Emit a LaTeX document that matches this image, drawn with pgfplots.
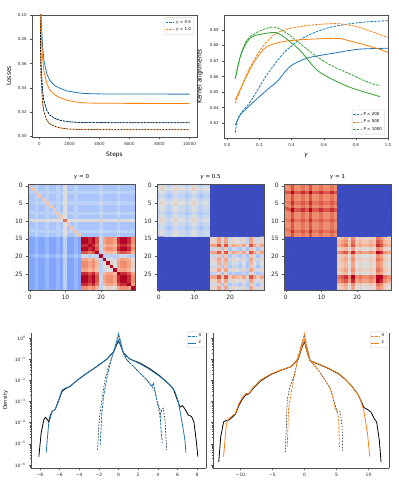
\documentclass[border=0pt]{standalone}
\usepackage{fontspec}
\setmainfont{DejaVu Sans}
\usepackage{pgfplots}
\pgfplotsset{compat=1.18}

\definecolor{tblue}{RGB}{31,119,180}
\definecolor{torange}{RGB}{255,127,14}
\definecolor{tgreen}{RGB}{44,160,44}
\definecolor{spinec}{RGB}{80,80,80}

\pgfplotsset{
  colormap={coolwarm}{rgb255=(59,76,192) rgb255=(98,130,234) rgb255=(141,176,254) rgb255=(184,208,249) rgb255=(221,221,221) rgb255=(245,196,173) rgb255=(244,154,123) rgb255=(222,96,77) rgb255=(180,4,38)},
  mpl/.style={
    scale only axis, anchor=south west,
    axis line style={spinec, line width=0.4bp},
    every tick/.style={spinec, line width=0.35bp},
    tick align=outside, major tick length=1.8bp, minor tick length=1bp,
    xtick pos=left, ytick pos=left,
    scaled ticks=false,
    /pgf/number format/assume math mode=true,
    tick label style={font=\fontsize{4}{4}\selectfont, text=black!85},
    label style={font=\fontsize{6}{6}\selectfont},
    legend cell align=left,
    legend style={font=\fontsize{4}{4}\selectfont, draw=black!20, rounded corners=1bp,
      inner sep=0.6bp, row sep=-1.2bp, fill=white},
    legend image code/.code={\draw[##1, line width=0.8bp] (0bp,0bp) -- (8bp,0bp);},
    every axis plot/.append style={line width=0.8bp},
  },
  hm/.style={mpl, width=107bp, height=106bp, enlargelimits=false,
    xmin=-0.5, xmax=29.5, ymin=-0.5, ymax=29.5, y dir=reverse,
    xtick={0,10,20}, ytick={0,5,10,15,20,25},
    colormap name=coolwarm, point meta min=0, point meta max=9,
    tick label style={font=\fontsize{6}{6}\selectfont},
    title style={font=\fontsize{5.5}{5.5}\selectfont, yshift=-5bp},
    axis on top},
  dens/.style={mpl, height=135bp, ymin=7.2e-7, ymax=1.72,
    axis x line*=bottom, axis y line*=left,
    ytick={1e-6,1e-5,1e-4,1e-3,1e-2,1e-1,1},
    minor ytick={8e-7,9e-7,2e-6,3e-6,4e-6,5e-6,6e-6,7e-6,8e-6,9e-6,2e-5,3e-5,4e-5,5e-5,6e-5,7e-5,8e-5,9e-5,2e-4,3e-4,4e-4,5e-4,6e-4,7e-4,8e-4,9e-4,2e-3,3e-3,4e-3,5e-3,6e-3,7e-3,8e-3,9e-3,2e-2,3e-2,4e-2,5e-2,6e-2,7e-2,8e-2,9e-2,0.2,0.3,0.4,0.5,0.6,0.7,0.8,0.9},
    tick label style={font=\fontsize{4.5}{4.5}\selectfont},
    label style={font=\fontsize{5}{5}\selectfont},
    legend style={at={(0.99,1.01)}, anchor=north east, font=\fontsize{4.5}{4.5}\selectfont},
    extra description/.code={\draw[spinec, line width=0.4bp] (1,0) -- (1,1);}},
  ndash/.style={dash pattern=on 2.6bp off 1.1bp},
  kdash/.style={black, line width=0.5bp, dash pattern=on 1.6bp off 1.4bp},
}

\begin{document}
\begin{tikzpicture}
\useasboundingbox (0,0) rectangle (399bp,485bp);

% ---- losses
\begin{axis}[mpl, at={(32bp,348bp)}, width=165bp, height=122bp,
  xmin=-500, xmax=10500, ymin=-0.0005, ymax=0.1,
  xtick={0,2000,4000,6000,8000,10000}, xticklabels={0,2000,4000,6000,8000,10000},
  ytick={0,0.02,0.04,0.06,0.08,0.1}, yticklabels={0.00,0.02,0.04,0.06,0.08,0.10},
  xlabel={Steps}, ylabel={Losses},
  legend style={at={(0.98,0.98)}, anchor=north east}]
\addplot[tblue, ndash] coordinates {(0,0.16)(100,0.06)(200,0.038)(300,0.029)(500,0.021)(700,0.0175)(1000,0.0150)(1300,0.0135)(1800,0.0122)(2500,0.0116)(3000,0.0114)(5000,0.0113)(10000,0.0113)};
\addlegendentry{\textit{γ} = 0.5}
\addplot[torange, ndash] coordinates {(0,0.16)(100,0.05)(200,0.028)(300,0.020)(500,0.013)(700,0.0102)(1000,0.0085)(1300,0.0072)(1800,0.0062)(2500,0.0058)(3000,0.0056)(5000,0.0055)(10000,0.0055)};
\addlegendentry{\textit{γ} = 1.0}
\addplot[kdash, forget plot] coordinates {(0,0.16)(100,0.06)(200,0.038)(300,0.029)(500,0.021)(700,0.0175)(1000,0.0150)(1300,0.0135)(1800,0.0122)(2500,0.0116)(3000,0.0114)(5000,0.0113)(10000,0.0113)};
\addplot[kdash, forget plot] coordinates {(0,0.16)(100,0.05)(200,0.028)(300,0.020)(500,0.013)(700,0.0102)(1000,0.0085)(1300,0.0072)(1800,0.0062)(2500,0.0058)(3000,0.0056)(5000,0.0055)(10000,0.0055)};
\addplot[tblue, forget plot] coordinates {(0,0.17)(100,0.10)(200,0.075)(300,0.062)(500,0.051)(700,0.046)(1000,0.042)(1300,0.0400)(1800,0.0375)(2500,0.0360)(3000,0.0353)(4000,0.0350)(6000,0.0349)(10000,0.0348)};
\addplot[torange, forget plot] coordinates {(0,0.17)(100,0.09)(200,0.065)(300,0.053)(500,0.043)(700,0.038)(1000,0.0345)(1300,0.0322)(1800,0.0298)(2500,0.0282)(3000,0.0276)(4000,0.0273)(6000,0.0272)(10000,0.0271)};
\end{axis}

% ---- kernel alignments
\begin{axis}[mpl, at={(224bp,347bp)}, width=164bp, height=123bp,
  xmin=-0.02, xmax=1.0, ymin=0.6205, ymax=0.6996,
  xtick={0,0.2,0.4,0.6,0.8,1.0}, xticklabels={0.0,0.2,0.4,0.6,0.8,1.0},
  ytick={0.63,0.64,0.65,0.66,0.67,0.68,0.69}, yticklabels={0.63,0.64,0.65,0.66,0.67,0.68,0.69},
  xlabel={\textit{γ}}, ylabel={Kernel alignments},
  legend style={at={(0.98,0.03)}, anchor=south east},
  every axis plot/.append style={smooth, tension=0.5}]
\addplot[tblue, ndash] coordinates {(0.05,0.624)(0.072,0.6343)(0.144,0.6439)(0.247,0.6611)(0.35,0.675)(0.45,0.6836)(0.557,0.6889)(0.66,0.6921)(0.82,0.6947)(1.0,0.6960)};
\addlegendentry{P = 200}
\addplot[torange, ndash] coordinates {(0.05,0.6429)(0.124,0.6621)(0.206,0.6771)(0.29,0.6868)(0.37,0.6904)(0.495,0.6928)(0.619,0.6939)(0.70,0.6939)(0.82,0.6917)(1.0,0.6851)};
\addlegendentry{P = 500}
\addplot[tgreen, ndash] coordinates {(0.05,0.6590)(0.082,0.6735)(0.124,0.6836)(0.186,0.6885)(0.247,0.6911)(0.30,0.6917)(0.37,0.6879)(0.45,0.6814)(0.557,0.6729)(0.66,0.6664)(0.763,0.6617)(0.866,0.6568)(0.95,0.654)};
\addlegendentry{P = 1000}
\addplot[tblue, forget plot] coordinates {(0.05,0.6289)(0.082,0.6354)(0.144,0.6418)(0.247,0.6514)(0.31,0.6568)(0.39,0.6664)(0.495,0.6718)(0.66,0.675)(0.82,0.6776)(1.0,0.6782)};
\addplot[torange, forget plot] coordinates {(0.05,0.645)(0.082,0.6519)(0.124,0.6611)(0.175,0.6707)(0.247,0.6793)(0.35,0.6825)(0.45,0.6836)(0.55,0.6842)(0.66,0.6846)(0.70,0.6845)(0.82,0.6814)(0.95,0.6775)(1.0,0.6754)};
\addplot[tgreen, forget plot] coordinates {(0.05,0.6585)(0.082,0.6729)(0.124,0.6825)(0.165,0.6861)(0.247,0.6879)(0.30,0.6883)(0.35,0.6857)(0.45,0.6771)(0.557,0.6643)(0.66,0.6579)(0.763,0.6531)(0.866,0.6497)(0.95,0.6471)};
\end{axis}

% ---- heatmap gamma = 0
\begin{axis}[hm, at={(28bp,195bp)}, title={\textit{γ} = 0}]
\addplot[matrix plot*, mesh/cols=30, point meta=explicit]
  table[row sep=\\, x expr={mod(\coordindex,30)}, y expr={floor(\coordindex/30)}, meta=c] {
c\\
5.5\\3\\3.5\\3\\3\\3.5\\3\\3\\3.5\\3\\4.5\\3\\3\\3.5\\3\\3\\3\\3\\3\\3\\3.5\\3\\3\\3\\3\\3.5\\3\\3\\3\\3\\
3\\5.5\\3.5\\3\\3\\3.5\\3\\3\\3.5\\3\\4.5\\3\\3\\3.5\\3\\3\\3\\3\\3\\3\\3.5\\3\\3\\3\\3\\3.5\\3\\3\\3\\3\\
3.5\\3.5\\5.5\\3.5\\3.5\\3.5\\3.5\\3.5\\3.5\\3.5\\4.5\\3.5\\3.5\\3.5\\3.5\\3.5\\3.5\\3.5\\3.5\\3.5\\4\\3.5\\3.5\\3.5\\3.5\\4\\3.5\\3.5\\3.5\\3.5\\
3\\3\\3.5\\5.5\\3\\3.5\\3\\3\\3.5\\3\\4.5\\3\\3\\3.5\\3\\3\\3\\3\\3\\3\\3.5\\3\\3\\3\\3\\3.5\\3\\3\\3\\3\\
3\\3\\3.5\\3\\5.5\\3.5\\3\\3\\3.5\\3\\4.5\\3\\3\\3.5\\3\\3\\3\\3\\3\\3\\3.5\\3\\3\\3\\3\\3.5\\3\\3\\3\\3\\
3.5\\3.5\\3.5\\3.5\\3.5\\5.5\\3.5\\3.5\\3.5\\3.5\\4.5\\3.5\\3.5\\3.5\\3.5\\3.5\\3.5\\3.5\\3.5\\3.5\\4\\3.5\\3.5\\3.5\\3.5\\4\\3.5\\3.5\\3.5\\3.5\\
3\\3\\3.5\\3\\3\\3.5\\5.5\\3\\3.5\\3\\4.5\\3\\3\\3.5\\3\\3\\3\\3\\3\\3\\3.5\\3\\3\\3\\3\\3.5\\3\\3\\3\\3\\
3\\3\\3.5\\3\\3\\3.5\\3\\5.5\\3.5\\3\\4.5\\3\\3\\3.5\\3\\3\\3\\3\\3\\3\\3.5\\3\\3\\3\\3\\3.5\\3\\3\\3\\3\\
3.5\\3.5\\3.5\\3.5\\3.5\\3.5\\3.5\\3.5\\5.5\\3.5\\4.5\\3.5\\3.5\\3.5\\3.5\\3.5\\3.5\\3.5\\3.5\\3.5\\4\\3.5\\3.5\\3.5\\3.5\\4\\3.5\\3.5\\3.5\\3.5\\
3\\3\\3.5\\3\\3\\3.5\\3\\3\\3.5\\5.5\\4.5\\3\\3\\3.5\\3\\3\\3\\3\\3\\3\\3.5\\3\\3\\3\\3\\3.5\\3\\3\\3\\3\\
4.5\\4.5\\4.5\\4.5\\4.5\\4.5\\4.5\\4.5\\4.5\\4.5\\7.5\\4.5\\4.5\\4.5\\4.5\\4.5\\4.5\\4.5\\4.5\\4.5\\5\\4.5\\4.5\\4.5\\4.5\\5\\4.5\\4.5\\4.5\\4.5\\
3\\3\\3.5\\3\\3\\3.5\\3\\3\\3.5\\3\\4.5\\5.5\\3\\3.5\\3\\3\\3\\3\\3\\3\\3.5\\3\\3\\3\\3\\3.5\\3\\3\\3\\3\\
3\\3\\3.5\\3\\3\\3.5\\3\\3\\3.5\\3\\4.5\\3\\5.5\\3.5\\3\\3\\3\\3\\3\\3\\3.5\\3\\3\\3\\3\\3.5\\3\\3\\3\\3\\
3.5\\3.5\\3.5\\3.5\\3.5\\3.5\\3.5\\3.5\\3.5\\3.5\\4.5\\3.5\\3.5\\5.5\\3.5\\3.5\\3.5\\3.5\\3.5\\3.5\\4\\3.5\\3.5\\3.5\\3.5\\4\\3.5\\3.5\\3.5\\3.5\\
3\\3\\3.5\\3\\3\\3.5\\3\\3\\3.5\\3\\4.5\\3\\3\\3.5\\5.5\\3\\3\\3\\3\\3\\3.5\\3\\3\\3\\3\\3.5\\3\\3\\3\\3\\
2\\2\\2.5\\2\\2\\2.5\\2\\2\\2.5\\2\\3.5\\2\\2\\2.5\\2\\9\\9\\8.5\\9\\8\\4\\6.5\\7\\7\\6.5\\8.5\\9\\9\\8.5\\7\\
2\\2\\2.5\\2\\2\\2.5\\2\\2\\2.5\\2\\3.5\\2\\2\\2.5\\2\\9\\9\\8.5\\9\\8\\4\\6.5\\7\\7\\6.5\\8.5\\9\\9\\8.5\\7\\
2\\2\\2.5\\2\\2\\2.5\\2\\2\\2.5\\2\\3.5\\2\\2\\2.5\\2\\8.5\\8.5\\9\\8.5\\7.5\\3.5\\6\\6.5\\6.5\\6\\8\\8.5\\8.5\\8\\6.5\\
2\\2\\2.5\\2\\2\\2.5\\2\\2\\2.5\\2\\3.5\\2\\2\\2.5\\2\\9\\9\\8.5\\9\\8\\4\\6.5\\7\\7\\6.5\\8.5\\9\\9\\8.5\\7\\
2\\2\\2.5\\2\\2\\2.5\\2\\2\\2.5\\2\\3.5\\2\\2\\2.5\\2\\8\\8\\7.5\\8\\9\\3.5\\5.5\\6\\6\\5.5\\7.5\\8\\8\\7.5\\6\\
2.5\\2.5\\3\\2.5\\2.5\\3\\2.5\\2.5\\3\\2.5\\4\\2.5\\2.5\\3\\2.5\\4\\4\\3.5\\4\\3.5\\9\\3.5\\3.5\\3.5\\3.5\\3.5\\4\\4\\3.5\\3.5\\
2\\2\\2.5\\2\\2\\2.5\\2\\2\\2.5\\2\\3.5\\2\\2\\2.5\\2\\6.5\\6.5\\6\\6.5\\5.5\\3.5\\9\\4.5\\4.5\\4\\6\\6.5\\6.5\\6\\4.5\\
2\\2\\2.5\\2\\2\\2.5\\2\\2\\2.5\\2\\3.5\\2\\2\\2.5\\2\\7\\7\\6.5\\7\\6\\3.5\\4.5\\9\\5\\4.5\\6.5\\7\\7\\6.5\\5\\
2\\2\\2.5\\2\\2\\2.5\\2\\2\\2.5\\2\\3.5\\2\\2\\2.5\\2\\7\\7\\6.5\\7\\6\\3.5\\4.5\\5\\9\\4.5\\6.5\\7\\7\\6.5\\5\\
2\\2\\2.5\\2\\2\\2.5\\2\\2\\2.5\\2\\3.5\\2\\2\\2.5\\2\\6.5\\6.5\\6\\6.5\\5.5\\3.5\\4\\4.5\\4.5\\9\\6\\6.5\\6.5\\6\\4.5\\
2\\2\\2.5\\2\\2\\2.5\\2\\2\\2.5\\2\\3.5\\2\\2\\2.5\\2\\8.5\\8.5\\8\\8.5\\7.5\\3.5\\6\\6.5\\6.5\\6\\9\\8.5\\8.5\\8\\6.5\\
2\\2\\2.5\\2\\2\\2.5\\2\\2\\2.5\\2\\3.5\\2\\2\\2.5\\2\\9\\9\\8.5\\9\\8\\4\\6.5\\7\\7\\6.5\\8.5\\9\\9\\8.5\\7\\
2\\2\\2.5\\2\\2\\2.5\\2\\2\\2.5\\2\\3.5\\2\\2\\2.5\\2\\9\\9\\8.5\\9\\8\\4\\6.5\\7\\7\\6.5\\8.5\\9\\9\\8.5\\7\\
2\\2\\2.5\\2\\2\\2.5\\2\\2\\2.5\\2\\3.5\\2\\2\\2.5\\2\\8.5\\8.5\\8\\8.5\\7.5\\3.5\\6\\6.5\\6.5\\6\\8\\8.5\\8.5\\9\\6.5\\
2\\2\\2.5\\2\\2\\2.5\\2\\2\\2.5\\2\\3.5\\2\\2\\2.5\\2\\7\\7\\6.5\\7\\6\\3.5\\4.5\\5\\5\\4.5\\6.5\\7\\7\\6.5\\9\\
};
\end{axis}

% ---- heatmap gamma = 0.5
\begin{axis}[hm, at={(157bp,195bp)}, title={\textit{γ} = 0.5}]
\addplot[matrix plot*, mesh/cols=30, point meta=explicit]
  table[row sep=\\, x expr={mod(\coordindex,30)}, y expr={floor(\coordindex/30)}, meta=c] {
c\\
4\\4.5\\4\\3.5\\4\\4.5\\4\\4\\3.5\\4\\4.5\\4\\3.5\\4\\4\\0\\0\\0\\0\\0\\0\\0\\0\\0\\0\\0\\0\\0\\0\\0\\
4.5\\5\\4.5\\4\\4.5\\5\\4.5\\4.5\\4\\4.5\\5\\4.5\\4\\4.5\\4.5\\0\\0\\0\\0\\0\\0\\0\\0\\0\\0\\0\\0\\0\\0\\0\\
4\\4.5\\4\\3.5\\4\\4.5\\4\\4\\3.5\\4\\4.5\\4\\3.5\\4\\4\\0\\0\\0\\0\\0\\0\\0\\0\\0\\0\\0\\0\\0\\0\\0\\
3.5\\4\\3.5\\3\\3.5\\4\\3.5\\3.5\\3\\3.5\\4\\3.5\\3\\3.5\\3.5\\0\\0\\0\\0\\0\\0\\0\\0\\0\\0\\0\\0\\0\\0\\0\\
4\\4.5\\4\\3.5\\4\\4.5\\4\\4\\3.5\\4\\4.5\\4\\3.5\\4\\4\\0\\0\\0\\0\\0\\0\\0\\0\\0\\0\\0\\0\\0\\0\\0\\
4.5\\5\\4.5\\4\\4.5\\5\\4.5\\4.5\\4\\4.5\\5\\4.5\\4\\4.5\\4.5\\0\\0\\0\\0\\0\\0\\0\\0\\0\\0\\0\\0\\0\\0\\0\\
4\\4.5\\4\\3.5\\4\\4.5\\4\\4\\3.5\\4\\4.5\\4\\3.5\\4\\4\\0\\0\\0\\0\\0\\0\\0\\0\\0\\0\\0\\0\\0\\0\\0\\
4\\4.5\\4\\3.5\\4\\4.5\\4\\4\\3.5\\4\\4.5\\4\\3.5\\4\\4\\0\\0\\0\\0\\0\\0\\0\\0\\0\\0\\0\\0\\0\\0\\0\\
3.5\\4\\3.5\\3\\3.5\\4\\3.5\\3.5\\3\\3.5\\4\\3.5\\3\\3.5\\3.5\\0\\0\\0\\0\\0\\0\\0\\0\\0\\0\\0\\0\\0\\0\\0\\
4\\4.5\\4\\3.5\\4\\4.5\\4\\4\\3.5\\4\\4.5\\4\\3.5\\4\\4\\0\\0\\0\\0\\0\\0\\0\\0\\0\\0\\0\\0\\0\\0\\0\\
4.5\\5\\4.5\\4\\4.5\\5\\4.5\\4.5\\4\\4.5\\5\\4.5\\4\\4.5\\4.5\\0\\0\\0\\0\\0\\0\\0\\0\\0\\0\\0\\0\\0\\0\\0\\
4\\4.5\\4\\3.5\\4\\4.5\\4\\4\\3.5\\4\\4.5\\4\\3.5\\4\\4\\0\\0\\0\\0\\0\\0\\0\\0\\0\\0\\0\\0\\0\\0\\0\\
3.5\\4\\3.5\\3\\3.5\\4\\3.5\\3.5\\3\\3.5\\4\\3.5\\3\\3.5\\3.5\\0\\0\\0\\0\\0\\0\\0\\0\\0\\0\\0\\0\\0\\0\\0\\
4\\4.5\\4\\3.5\\4\\4.5\\4\\4\\3.5\\4\\4.5\\4\\3.5\\4\\4\\0\\0\\0\\0\\0\\0\\0\\0\\0\\0\\0\\0\\0\\0\\0\\
4\\4.5\\4\\3.5\\4\\4.5\\4\\4\\3.5\\4\\4.5\\4\\3.5\\4\\4\\0\\0\\0\\0\\0\\0\\0\\0\\0\\0\\0\\0\\0\\0\\0\\
0\\0\\0\\0\\0\\0\\0\\0\\0\\0\\0\\0\\0\\0\\0\\5\\5\\6.5\\4\\6.5\\4\\5\\4.5\\4\\5\\3.5\\6.5\\5\\4\\5\\
0\\0\\0\\0\\0\\0\\0\\0\\0\\0\\0\\0\\0\\0\\0\\5\\5\\6.5\\4\\6.5\\4\\5\\4.5\\4\\5\\3.5\\6.5\\5\\4\\5\\
0\\0\\0\\0\\0\\0\\0\\0\\0\\0\\0\\0\\0\\0\\0\\6.5\\6.5\\8\\5.5\\8\\5.5\\6.5\\6\\5.5\\6.5\\5\\8\\6.5\\5.5\\6.5\\
0\\0\\0\\0\\0\\0\\0\\0\\0\\0\\0\\0\\0\\0\\0\\4\\4\\5.5\\3\\5.5\\3\\4\\3.5\\3\\4\\3\\5.5\\4\\3\\4\\
0\\0\\0\\0\\0\\0\\0\\0\\0\\0\\0\\0\\0\\0\\0\\6.5\\6.5\\8\\5.5\\8\\5.5\\6.5\\6\\5.5\\6.5\\5\\8\\6.5\\5.5\\6.5\\
0\\0\\0\\0\\0\\0\\0\\0\\0\\0\\0\\0\\0\\0\\0\\4\\4\\5.5\\3\\5.5\\3\\4\\3.5\\3\\4\\3\\5.5\\4\\3\\4\\
0\\0\\0\\0\\0\\0\\0\\0\\0\\0\\0\\0\\0\\0\\0\\5\\5\\6.5\\4\\6.5\\4\\5\\4.5\\4\\5\\3.5\\6.5\\5\\4\\5\\
0\\0\\0\\0\\0\\0\\0\\0\\0\\0\\0\\0\\0\\0\\0\\4.5\\4.5\\6\\3.5\\6\\3.5\\4.5\\4\\3.5\\4.5\\3\\6\\4.5\\3.5\\4.5\\
0\\0\\0\\0\\0\\0\\0\\0\\0\\0\\0\\0\\0\\0\\0\\4\\4\\5.5\\3\\5.5\\3\\4\\3.5\\3\\4\\3\\5.5\\4\\3\\4\\
0\\0\\0\\0\\0\\0\\0\\0\\0\\0\\0\\0\\0\\0\\0\\5\\5\\6.5\\4\\6.5\\4\\5\\4.5\\4\\5\\3.5\\6.5\\5\\4\\5\\
0\\0\\0\\0\\0\\0\\0\\0\\0\\0\\0\\0\\0\\0\\0\\3.5\\3.5\\5\\3\\5\\3\\3.5\\3\\3\\3.5\\3\\5\\3.5\\3\\3.5\\
0\\0\\0\\0\\0\\0\\0\\0\\0\\0\\0\\0\\0\\0\\0\\6.5\\6.5\\8\\5.5\\8\\5.5\\6.5\\6\\5.5\\6.5\\5\\8\\6.5\\5.5\\6.5\\
0\\0\\0\\0\\0\\0\\0\\0\\0\\0\\0\\0\\0\\0\\0\\5\\5\\6.5\\4\\6.5\\4\\5\\4.5\\4\\5\\3.5\\6.5\\5\\4\\5\\
0\\0\\0\\0\\0\\0\\0\\0\\0\\0\\0\\0\\0\\0\\0\\4\\4\\5.5\\3\\5.5\\3\\4\\3.5\\3\\4\\3\\5.5\\4\\3\\4\\
0\\0\\0\\0\\0\\0\\0\\0\\0\\0\\0\\0\\0\\0\\0\\5\\5\\6.5\\4\\6.5\\4\\5\\4.5\\4\\5\\3.5\\6.5\\5\\4\\5\\
};
\end{axis}

% ---- heatmap gamma = 1
\begin{axis}[hm, at={(284bp,195bp)}, title={\textit{γ} = 1}]
\addplot[matrix plot*, mesh/cols=30, point meta=explicit]
  table[row sep=\\, x expr={mod(\coordindex,30)}, y expr={floor(\coordindex/30)}, meta=c] {
c\\
7\\7\\8\\7\\7\\7.5\\7\\8\\7\\7\\7.5\\7\\7\\7.5\\7\\0\\0\\0\\0\\0\\0\\0\\0\\0\\0\\0\\0\\0\\0\\0\\
7\\7\\8\\7\\7\\7.5\\7\\8\\7\\7\\7.5\\7\\7\\7.5\\7\\0\\0\\0\\0\\0\\0\\0\\0\\0\\0\\0\\0\\0\\0\\0\\
8\\8\\9\\8\\8\\8.5\\8\\9\\8\\8\\8.5\\8\\8\\8.5\\8\\0\\0\\0\\0\\0\\0\\0\\0\\0\\0\\0\\0\\0\\0\\0\\
7\\7\\8\\7\\7\\7.5\\7\\8\\7\\7\\7.5\\7\\7\\7.5\\7\\0\\0\\0\\0\\0\\0\\0\\0\\0\\0\\0\\0\\0\\0\\0\\
7\\7\\8\\7\\7\\7.5\\7\\8\\7\\7\\7.5\\7\\7\\7.5\\7\\0\\0\\0\\0\\0\\0\\0\\0\\0\\0\\0\\0\\0\\0\\0\\
7.5\\7.5\\8.5\\7.5\\7.5\\8\\7.5\\8.5\\7.5\\7.5\\8\\7.5\\7.5\\8\\7.5\\0\\0\\0\\0\\0\\0\\0\\0\\0\\0\\0\\0\\0\\0\\0\\
7\\7\\8\\7\\7\\7.5\\7\\8\\7\\7\\7.5\\7\\7\\7.5\\7\\0\\0\\0\\0\\0\\0\\0\\0\\0\\0\\0\\0\\0\\0\\0\\
8\\8\\9\\8\\8\\8.5\\8\\9\\8\\8\\8.5\\8\\8\\8.5\\8\\0\\0\\0\\0\\0\\0\\0\\0\\0\\0\\0\\0\\0\\0\\0\\
7\\7\\8\\7\\7\\7.5\\7\\8\\7\\7\\7.5\\7\\7\\7.5\\7\\0\\0\\0\\0\\0\\0\\0\\0\\0\\0\\0\\0\\0\\0\\0\\
7\\7\\8\\7\\7\\7.5\\7\\8\\7\\7\\7.5\\7\\7\\7.5\\7\\0\\0\\0\\0\\0\\0\\0\\0\\0\\0\\0\\0\\0\\0\\0\\
7.5\\7.5\\8.5\\7.5\\7.5\\8\\7.5\\8.5\\7.5\\7.5\\8\\7.5\\7.5\\8\\7.5\\0\\0\\0\\0\\0\\0\\0\\0\\0\\0\\0\\0\\0\\0\\0\\
7\\7\\8\\7\\7\\7.5\\7\\8\\7\\7\\7.5\\7\\7\\7.5\\7\\0\\0\\0\\0\\0\\0\\0\\0\\0\\0\\0\\0\\0\\0\\0\\
7\\7\\8\\7\\7\\7.5\\7\\8\\7\\7\\7.5\\7\\7\\7.5\\7\\0\\0\\0\\0\\0\\0\\0\\0\\0\\0\\0\\0\\0\\0\\0\\
7.5\\7.5\\8.5\\7.5\\7.5\\8\\7.5\\8.5\\7.5\\7.5\\8\\7.5\\7.5\\8\\7.5\\0\\0\\0\\0\\0\\0\\0\\0\\0\\0\\0\\0\\0\\0\\0\\
7\\7\\8\\7\\7\\7.5\\7\\8\\7\\7\\7.5\\7\\7\\7.5\\7\\0\\0\\0\\0\\0\\0\\0\\0\\0\\0\\0\\0\\0\\0\\0\\
0\\0\\0\\0\\0\\0\\0\\0\\0\\0\\0\\0\\0\\0\\0\\5.5\\6\\6.5\\5\\7\\5\\5.5\\5\\5\\5.5\\5\\7.5\\7\\5.5\\5\\
0\\0\\0\\0\\0\\0\\0\\0\\0\\0\\0\\0\\0\\0\\0\\6\\6.5\\7\\5.5\\7.5\\5.5\\6\\5.5\\5.5\\6\\5.5\\8\\7.5\\6\\5.5\\
0\\0\\0\\0\\0\\0\\0\\0\\0\\0\\0\\0\\0\\0\\0\\6.5\\7\\7.5\\6\\8\\6\\6.5\\6\\6\\6.5\\6\\8.5\\8\\6.5\\6\\
0\\0\\0\\0\\0\\0\\0\\0\\0\\0\\0\\0\\0\\0\\0\\5\\5.5\\6\\4.5\\6.5\\4.5\\5\\4.5\\4.5\\5\\4.5\\7\\6.5\\5\\4.5\\
0\\0\\0\\0\\0\\0\\0\\0\\0\\0\\0\\0\\0\\0\\0\\7\\7.5\\8\\6.5\\8.5\\6.5\\7\\6.5\\6.5\\7\\6.5\\9\\8.5\\7\\6.5\\
0\\0\\0\\0\\0\\0\\0\\0\\0\\0\\0\\0\\0\\0\\0\\5\\5.5\\6\\4.5\\6.5\\4.5\\5\\4.5\\4.5\\5\\4.5\\7\\6.5\\5\\4.5\\
0\\0\\0\\0\\0\\0\\0\\0\\0\\0\\0\\0\\0\\0\\0\\5.5\\6\\6.5\\5\\7\\5\\5.5\\5\\5\\5.5\\5\\7.5\\7\\5.5\\5\\
0\\0\\0\\0\\0\\0\\0\\0\\0\\0\\0\\0\\0\\0\\0\\5\\5.5\\6\\4.5\\6.5\\4.5\\5\\4.5\\4.5\\5\\4.5\\7\\6.5\\5\\4.5\\
0\\0\\0\\0\\0\\0\\0\\0\\0\\0\\0\\0\\0\\0\\0\\5\\5.5\\6\\4.5\\6.5\\4.5\\5\\4.5\\4.5\\5\\4.5\\7\\6.5\\5\\4.5\\
0\\0\\0\\0\\0\\0\\0\\0\\0\\0\\0\\0\\0\\0\\0\\5.5\\6\\6.5\\5\\7\\5\\5.5\\5\\5\\5.5\\5\\7.5\\7\\5.5\\5\\
0\\0\\0\\0\\0\\0\\0\\0\\0\\0\\0\\0\\0\\0\\0\\5\\5.5\\6\\4.5\\6.5\\4.5\\5\\4.5\\4.5\\5\\4.5\\7\\6.5\\5\\4.5\\
0\\0\\0\\0\\0\\0\\0\\0\\0\\0\\0\\0\\0\\0\\0\\7.5\\8\\8.5\\7\\9\\7\\7.5\\7\\7\\7.5\\7\\9\\9\\7.5\\7\\
0\\0\\0\\0\\0\\0\\0\\0\\0\\0\\0\\0\\0\\0\\0\\7\\7.5\\8\\6.5\\8.5\\6.5\\7\\6.5\\6.5\\7\\6.5\\9\\8.5\\7\\6.5\\
0\\0\\0\\0\\0\\0\\0\\0\\0\\0\\0\\0\\0\\0\\0\\5.5\\6\\6.5\\5\\7\\5\\5.5\\5\\5\\5.5\\5\\7.5\\7\\5.5\\5\\
0\\0\\0\\0\\0\\0\\0\\0\\0\\0\\0\\0\\0\\0\\0\\5\\5.5\\6\\4.5\\6.5\\4.5\\5\\4.5\\4.5\\5\\4.5\\7\\6.5\\5\\4.5\\
};
\end{axis}

% ---- density, gamma = 0.5
\begin{axis}[dens, ymode=log, at={(31bp,17bp)}, width=175bp, xmin=-8.9, xmax=8.9,
  xtick={-8,-6,-4,-2,0,2,4,6,8}, xticklabels={−8,−6,−4,−2,0,2,4,6,8},
  yticklabels={10\textsuperscript{−6},10\textsuperscript{−5},10\textsuperscript{−4},10\textsuperscript{−3},10\textsuperscript{−2},10\textsuperscript{−1},10\textsuperscript{0}},
  ylabel={Density}]
\addplot[black, forget plot] coordinates {(-8.1,2.5e-6)(-7.87,3.2e-5)(-7.6,1.35e-4)(-7.43,1.8e-4)(-7.26,1.45e-4)(-7.1,1.1e-4)(-6.93,2.3e-4)(-6.76,3.3e-4)(-6.42,4.4e-4)(-6.08,1.1e-3)(-5.74,3.0e-3)(-5.4,4.0e-3)(-4.9,5.3e-3)(-4.22,1.0e-2)(-3.2,2.2e-2)(-2.2,4.5e-2)(-1.18,0.1)(-0.5,0.22)(-0.17,0.5)(0,0.72)(0.17,0.5)(0.5,0.2)(1.18,0.1)(2.2,0.065)(3.2,0.035)(4.22,0.016)(5.0,7.5e-3)(5.57,4e-3)(5.91,1.45e-3)(6.25,5.4e-4)(6.52,6.3e-4)(6.76,4.4e-4)(7.09,2.3e-4)(7.43,1.95e-4)(7.67,1.1e-4)(7.94,1.05e-5)(8.07,2.5e-6)};
\addplot[kdash, forget plot] coordinates {(-2.13,5.1e-6)(-1.96,1.35e-4)(-1.69,1.2e-3)(-1.35,0.0126)(-1.0,0.045)(-0.5,0.2)(-0.17,0.7)(0,1.3)(0.17,0.7)(0.5,0.18)(0.84,0.09)(1.52,0.045)(2.2,0.021)(2.87,0.0105)(3.38,5.5e-3)(3.72,3e-3)(3.89,1.2e-3)(4.22,1.95e-4)(4.39,4e-4)(4.56,4.8e-4)(4.73,1.35e-4)(4.9,5.1e-6)};
\addplot[tblue, ndash] coordinates {(-1.86,8.7e-6)(-1.69,2.8e-4)(-1.52,1.7e-3)(-1.18,0.0126)(-0.84,0.066)(-0.5,0.23)(-0.17,0.83)(0,1.6)(0.17,0.83)(0.5,0.19)(0.84,0.093)(1.52,0.046)(2.2,0.022)(2.87,0.0107)(3.38,5.1e-3)(3.55,7.4e-3)(3.72,2.95e-3)(3.89,1.2e-3)(4.05,6.9e-4)(4.22,4e-4)(4.32,4.6e-5)(4.46,1.05e-5)};
\addlegendentry{n}
\addplot[tblue] coordinates {(-7.36,3.8e-6)(-7.1,9.3e-5)(-6.76,3.3e-4)(-6.42,4.4e-4)(-6.08,1.2e-3)(-5.74,3.5e-3)(-5.4,4.3e-3)(-4.9,5.1e-3)(-4.22,1.0e-2)(-3.2,2.2e-2)(-2.2,4.6e-2)(-1.18,0.1)(-0.5,0.23)(-0.17,0.58)(0,0.83)(0.17,0.54)(0.5,0.19)(1.18,0.1)(2.2,0.06)(3.2,0.032)(4.22,0.015)(5.24,6.2e-3)(5.74,2.95e-3)(6.08,1.0e-3)(6.42,1.35e-4)(6.76,1.5e-5)(6.86,3.8e-6)};
\addlegendentry{z}
\end{axis}

% ---- density, gamma = 1
\begin{axis}[dens, ymode=log, at={(213bp,17bp)}, width=176bp, xmin=-14.3, xmax=13.2,
  xtick={-10,-5,0,5,10}, xticklabels={−10,−5,0,5,10}, yticklabels={}]
\addplot[black, forget plot] coordinates {(-13.4,1.35e-6)(-13.1,2.1e-5)(-12.65,1.07e-4)(-12.2,1.3e-4)(-11.85,1.3e-4)(-11.3,1.8e-4)(-10.8,2.5e-4)(-10.26,6.5e-4)(-9.7,1.3e-3)(-9.2,2.0e-3)(-8.68,2.3e-3)(-8.15,3.8e-3)(-6.83,0.0095)(-5.24,0.019)(-3.65,0.03)(-2.06,0.045)(-1.0,0.1)(-0.48,0.3)(0,0.7)(0.32,0.26)(0.85,0.085)(2.17,0.058)(3.75,0.036)(5.34,0.02)(6.4,0.011)(7.46,5e-3)(8.25,2.4e-3)(8.78,1.15e-3)(9.3,5.1e-4)(9.84,4.2e-4)(10.37,3.2e-4)(10.9,1.55e-4)(11.27,1.07e-4)(11.69,1.45e-5)(11.96,1.35e-6)};
\addplot[kdash, forget plot] coordinates {(-3.0,4e-6)(-2.7,1.15e-3)(-2.3,5e-3)(-1.53,0.02)(-1.0,0.12)(-0.48,0.45)(0,1.4)(0.32,0.45)(0.85,0.09)(2.17,0.03)(3.23,0.01)(4.02,4e-3)(4.55,1.2e-3)(5.08,3.2e-4)(5.61,3.2e-4)(5.87,6.3e-5)(5.98,4e-6)};
\addplot[torange, ndash] coordinates {(-2.7,6.9e-6)(-2.49,4.7e-4)(-2.06,2.9e-3)(-1.53,0.021)(-1.0,0.135)(-0.48,0.48)(0,1.6)(0.32,0.48)(0.85,0.093)(2.17,0.031)(3.23,0.0105)(4.02,4.2e-3)(4.55,1.15e-3)(4.81,3.9e-4)(5.08,4.1e-4)(5.34,1.3e-4)(5.45,6.9e-6)};
\addlegendentry{n}
\addplot[torange] coordinates {(-12.65,2.5e-6)(-12.2,8.9e-5)(-11.85,1.55e-4)(-11.3,2.1e-4)(-10.8,2.7e-4)(-10.26,7.9e-4)(-9.7,1.55e-3)(-9.2,2.4e-3)(-8.68,2.4e-3)(-8.15,4.2e-3)(-6.83,0.0105)(-5.24,0.02)(-3.65,0.031)(-2.06,0.045)(-1.0,0.11)(-0.48,0.33)(0,0.83)(0.32,0.28)(0.85,0.087)(2.17,0.06)(3.75,0.037)(5.34,0.021)(6.4,0.011)(7.46,5e-3)(8.25,2.4e-3)(8.78,1.15e-3)(9.3,3.2e-4)(9.84,3e-5)(10.2,2.5e-6)};
\addlegendentry{z}
\end{axis}
\end{tikzpicture}
\end{document}
